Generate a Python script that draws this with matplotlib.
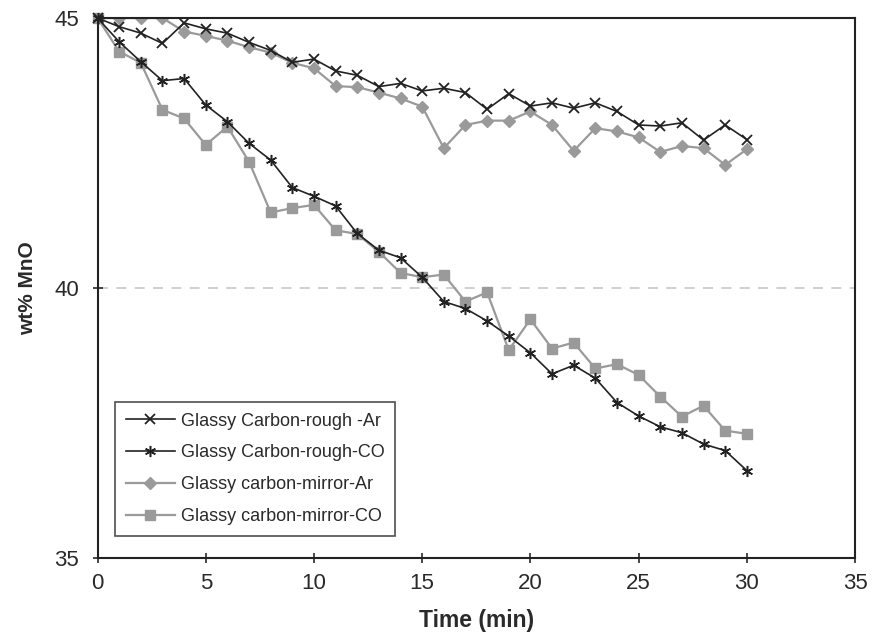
import matplotlib
matplotlib.use("Agg")
import matplotlib.pyplot as plt

plt.rcParams['font.family'] = ['Liberation Sans', 'DejaVu Sans']

time_min = list(range(0, 31))

rough_ar = [45.00, 44.84, 44.72, 44.53, 44.91, 44.80, 44.72, 44.55, 44.40, 44.18,
            44.24, 44.02, 43.94, 43.73, 43.79, 43.65, 43.70, 43.62, 43.31, 43.60,
            43.37, 43.43, 43.33, 43.43, 43.27, 43.02, 43.00, 43.06, 42.74, 43.02, 42.75]

rough_co = [45.00, 44.56, 44.19, 43.84, 43.88, 43.39, 43.08, 42.68, 42.37, 41.86,
            41.70, 41.52, 41.01, 40.70, 40.56, 40.20, 39.75, 39.62, 39.39, 39.11,
            38.80, 38.41, 38.57, 38.33, 37.88, 37.63, 37.43, 37.32, 37.11, 36.99, 36.62]

mirror_ar = [45.00, 45.00, 45.00, 45.00, 44.75, 44.67, 44.58, 44.46, 44.36, 44.17,
             44.07, 43.74, 43.72, 43.62, 43.51, 43.36, 42.59, 43.02, 43.10, 43.10,
             43.27, 43.02, 42.54, 42.96, 42.90, 42.79, 42.52, 42.63, 42.59, 42.28, 42.57]

mirror_co = [45.00, 44.38, 44.17, 43.30, 43.14, 42.65, 42.99, 42.34, 41.40, 41.48,
             41.54, 41.07, 41.00, 40.67, 40.28, 40.20, 40.25, 39.75, 39.92, 38.85,
             39.42, 38.88, 38.99, 38.51, 38.59, 38.39, 37.99, 37.62, 37.82, 37.36, 37.30]

labels = ["Glassy Carbon-rough -Ar", "Glassy Carbon-rough-CO",
          "Glassy carbon-mirror-Ar", "Glassy carbon-mirror-CO"]

x_ticks = [0, 5, 10, 15, 20, 25, 30, 35]
y_ticks = [35, 40, 45]

fig = plt.figure(figsize=(8.74, 6.42), dpi=100)
ax = fig.add_axes([0.1116, 0.1308, 0.8667, 0.8411])

grey = "#9a9a9a"
dark = "#222222"
text_col = "#2a2a2a"

ax.plot(time_min, mirror_ar, color=grey, lw=1.6, marker='D', ms=6,
        mfc=grey, mec=grey, label=labels[2], zorder=2)
ax.plot(time_min, mirror_co, color=grey, lw=1.6, marker='s', ms=7, clip_on=False,
        mfc=grey, mec=grey, label=labels[3], zorder=2)
ax.plot(time_min, rough_ar, color=dark, lw=1.2, marker='x', ms=7, mew=1.3,
        clip_on=False, label=labels[0], zorder=3)
ax.plot(time_min, rough_co, color=dark, lw=1.2, marker=(6, 2, 0), ms=8, mew=1.1,
        clip_on=False, label=labels[1], zorder=3)

ax.set_xlim(0, 35)
ax.set_ylim(35, 45)
ax.set_xticks(x_ticks)
ax.set_yticks(y_ticks)
ax.tick_params(direction='inout', length=7, width=1.2, labelsize=16,
               colors=text_col)
ax.tick_params(axis='x', pad=7)
ax.tick_params(axis='y', pad=10)
ax.yaxis.grid(True, linestyle=(0, (6, 5)), color='#c8c8c8', lw=1.2)
ax.set_axisbelow(True)
for s in ax.spines.values():
    s.set_linewidth(1.5)
    s.set_color('#222222')

ax.set_xlabel("Time (min)", fontsize=16.5, fontweight='bold', color=text_col)
ax.xaxis.set_label_coords(0.5, -0.094)
ax.set_ylabel("wt% MnO", fontsize=15, fontweight='bold', color=text_col)
ax.yaxis.set_label_coords(-0.08, 0.5)

handles, labs = ax.get_legend_handles_labels()
order = [2, 3, 0, 1]
leg = ax.legend([handles[i] for i in order], [labs[i] for i in order],
                loc='lower left', bbox_to_anchor=(0.023, 0.041),
                fontsize=13, frameon=True, fancybox=False, handlelength=2.7,
                labelspacing=0.82, borderpad=0.6, handletextpad=0.35,
                borderaxespad=0.0)
leg.get_frame().set_edgecolor('#222222')
leg.get_frame().set_linewidth(1.2)
for t in leg.get_texts():
    t.set_color(text_col)

fig.savefig("out.png", dpi=100)
